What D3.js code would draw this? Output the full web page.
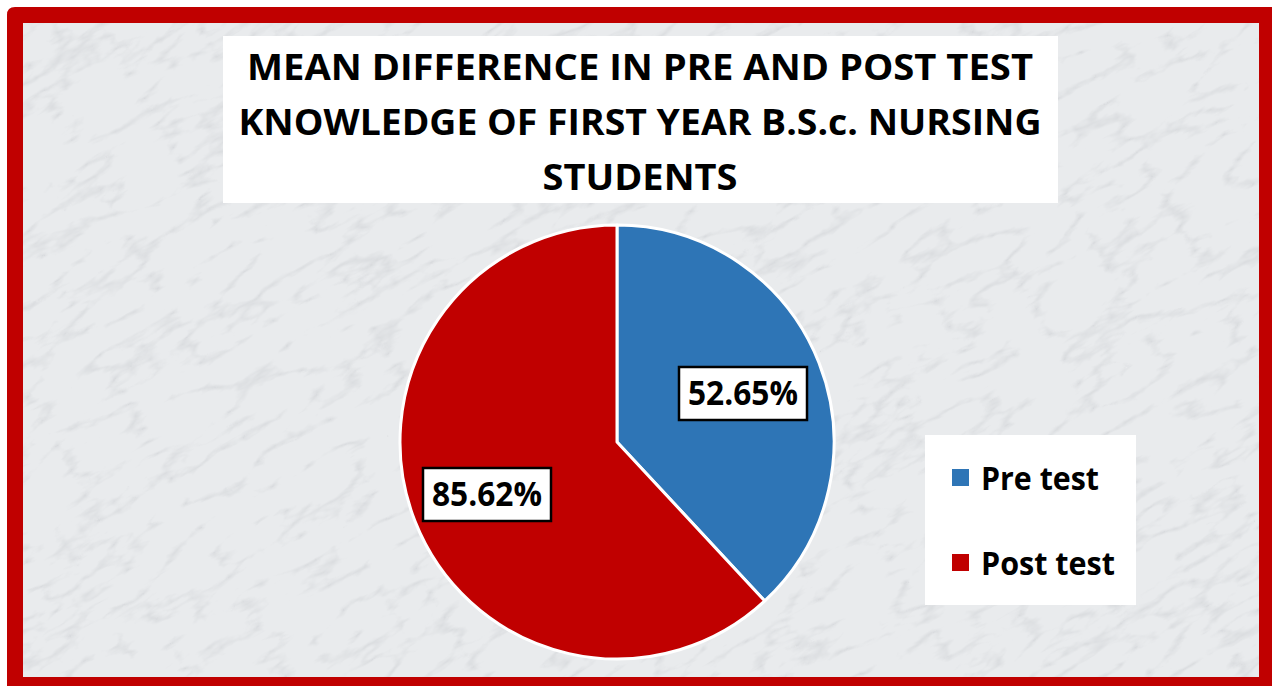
<!DOCTYPE html>
<meta charset="utf-8">
<style>
body { margin: 0; background: #fff; }
svg { display: block; }
text { font-family: "Open Sans", "Noto Sans", sans-serif; font-weight: bold; fill: #000; }
</style>
<svg width="1272" height="686"></svg>
<script src="https://d3js.org/d3.v7.min.js"></script>
<script>

var title = ["MEAN DIFFERENCE IN PRE AND POST TEST",
             "KNOWLEDGE OF FIRST YEAR B.S.c. NURSING",
             "STUDENTS"];
var categories = ["Pre test", "Post test"];
var values = [52.65, 85.62];
var colors = ["#2E75B6", "#C00000"];

var svg = d3.select("svg");

// marble-ish texture via turbulence filter
var defs = svg.append("defs");
var f = defs.append("filter").attr("id", "marble")
    .attr("x", 0).attr("y", 0).attr("width", "100%").attr("height", "100%");
f.append("feTurbulence")
    .attr("type", "turbulence")
    .attr("baseFrequency", "0.012 0.035")
    .attr("numOctaves", 4)
    .attr("seed", 3)
    .attr("result", "noise");
f.append("feColorMatrix")
    .attr("in", "noise")
    .attr("type", "matrix")
    .attr("values", "0 0 0 0 0.45  0 0 0 0 0.47  0 0 0 0 0.5  -3.2 0 0 0 0.75")
    .attr("result", "veins");
f.append("feGaussianBlur").attr("in", "veins").attr("stdDeviation", 0.7).attr("result", "soft");
f.append("feComponentTransfer").attr("in", "soft").attr("result", "veins2")
  .append("feFuncA").attr("type", "linear").attr("slope", 0.45).attr("intercept", 0);
f.append("feFlood").attr("flood-color", "#e9ebed").attr("result", "base");
f.append("feComposite").attr("in", "veins2").attr("in2", "base").attr("operator", "over");

var bgClip = defs.append("clipPath").attr("id", "bgclip");
bgClip.append("rect").attr("x", 15).attr("y", 15).attr("width", 1252).attr("height", 666);

svg.append("g").attr("clip-path", "url(#bgclip)")
  .append("rect")
    .attr("x", -400).attr("y", -400).attr("width", 2100).attr("height", 1500)
    .attr("transform", "rotate(-30 636 343)")
    .attr("filter", "url(#marble)");

// red frame drawn over texture
svg.append("path")
    .attr("fill", "#C00000")
    .attr("fill-rule", "evenodd")
    .attr("d", "M15,7 H1272 V686 H7 V15 Q7,7 15,7 Z M23,23 V677 H1259 V23 Z");

// title
svg.append("rect")
    .attr("x", 223).attr("y", 36).attr("width", 835).attr("height", 167)
    .attr("fill", "#fff");
svg.append("g").selectAll("text")
  .data(title)
  .join("text")
    .attr("x", 640)
    .attr("y", function(d, i) { return 80 + i * 55; })
    .attr("text-anchor", "middle")
    .attr("font-size", 36)
    .attr("textLength", function(d, i) { return [786, 803, 195][i]; })
    .attr("lengthAdjust", "spacingAndGlyphs")
    .text(function(d) { return d; });

// pie
var cx = 617, cy = 442, r = 217;
var pie = d3.pie().sort(null)(values);
var arc = d3.arc().innerRadius(0).outerRadius(r);

var g = svg.append("g").attr("transform", "translate(" + cx + "," + cy + ")");
g.selectAll("path")
  .data(pie)
  .join("path")
    .attr("d", arc)
    .attr("fill", function(d, i) { return colors[i]; })
    .attr("stroke", "#fff")
    .attr("stroke-width", 3)
    .attr("stroke-linejoin", "round");

// data labels
var labelPos = [[126, -49], [-130, 52]];
var lab = g.selectAll("g.lab")
  .data(pie)
  .join("g")
    .attr("class", "lab")
    .attr("transform", function(d, i) { return "translate(" + labelPos[i] + ")"; });
lab.append("rect")
    .attr("x", -64).attr("y", -26).attr("width", 128).attr("height", 53)
    .attr("fill", "#fff").attr("stroke", "#000").attr("stroke-width", 2.5);
lab.append("text")
    .attr("text-anchor", "middle")
    .attr("dy", "0.36em")
    .attr("font-size", 34)
    .attr("textLength", 110)
    .attr("lengthAdjust", "spacingAndGlyphs")
    .text(function(d) { return d.data.toFixed(2) + "%"; });

// legend
svg.append("rect")
    .attr("x", 925).attr("y", 435).attr("width", 211).attr("height", 170)
    .attr("fill", "#fff");
var leg = svg.append("g").selectAll("g")
  .data(categories)
  .join("g")
    .attr("transform", function(d, i) { return "translate(952," + (478 + i * 85) + ")"; });
leg.append("rect")
    .attr("x", 0).attr("y", -9).attr("width", 17).attr("height", 17)
    .attr("fill", function(d, i) { return colors[i]; });
leg.append("text")
    .attr("x", 29)
    .attr("dy", "0.36em")
    .attr("font-size", 32)
    .attr("textLength", function(d, i) { return [118, 134][i]; })
    .attr("lengthAdjust", "spacingAndGlyphs")
    .text(function(d) { return d; });

</script>
